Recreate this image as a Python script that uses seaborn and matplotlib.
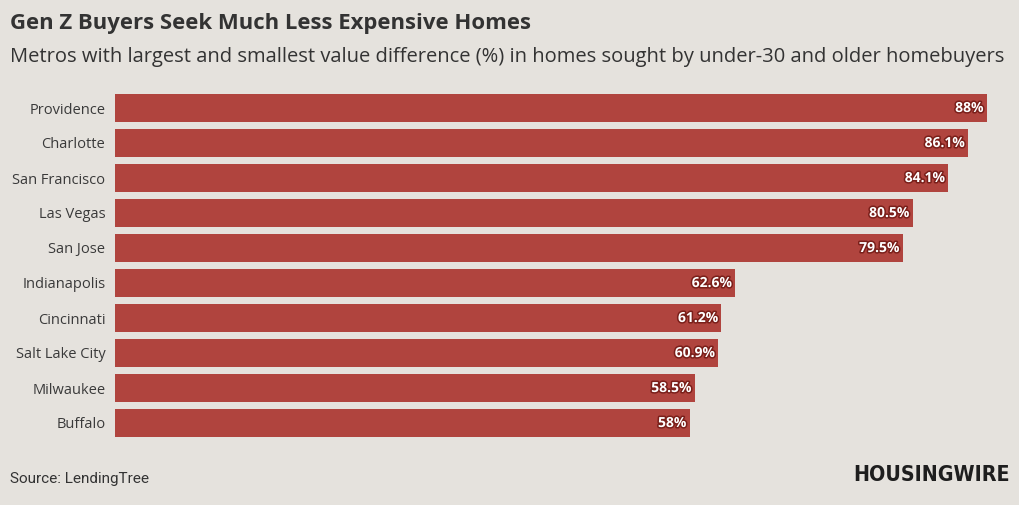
import matplotlib
matplotlib.use("Agg")
import matplotlib.pyplot as plt
import matplotlib.patheffects as pe
import seaborn as sns
import pandas as pd

metros = ["Providence", "Charlotte", "San Francisco", "Las Vegas", "San Jose",
          "Indianapolis", "Cincinnati", "Salt Lake City", "Milwaukee", "Buffalo"]
values = [88, 86.1, 84.1, 80.5, 79.5, 62.6, 61.2, 60.9, 58.5, 58]
labels = ["88%", "86.1%", "84.1%", "80.5%", "79.5%", "62.6%", "61.2%", "60.9%", "58.5%", "58%"]

BG = "#e5e2dd"
BAR = "#b0443e"

sns.set_theme(style="white")
plt.rcParams["font.family"] = ["Open Sans", "DejaVu Sans"]

df = pd.DataFrame({"metro": metros, "value": values})

fig = plt.figure(figsize=(10.2, 5.05), dpi=100, facecolor=BG)
ax = fig.add_axes([115/1020, 1 - 440.5/505, (1010-115)/1020, 350/505])
ax.set_facecolor(BG)

sns.barplot(data=df, x="value", y="metro", color=BAR, saturation=1, width=0.8,
            linewidth=0, edgecolor="none", ax=ax)

ax.set_xlim(0, (1010-115) / (872/88))
ax.set_ylim(9.5, -0.5)
ax.set_xlabel("")
ax.set_ylabel("")
ax.set_xticks([])
for s in ax.spines.values():
    s.set_visible(False)
ax.tick_params(axis="y", length=0, pad=7, labelsize=10.5, labelcolor="#3a3a3a")

for i, (v, lab) in enumerate(zip(values, labels)):
    ax.text(v - 0.35, i, lab, ha="right", va="center", color="white",
            fontsize=10, fontweight="bold",
            path_effects=[pe.withStroke(linewidth=2.2, foreground="#7a1f1a")])

fig.text(10/1020, 1 - 23/505, "Gen Z Buyers Seek Much Less Expensive Homes",
         fontsize=15.9, fontweight="bold", color="#333333", ha="left", va="center")
fig.text(10/1020, 1 - 57/505,
         "Metros with largest and smallest value difference (%) in homes sought by under-30 and older homebuyers",
         fontsize=14.5, color="#333333", ha="left", va="center")
fig.text(10/1020, 1 - 479/505, "Source: LendingTree", fontsize=11, color="#333333",
         ha="left", va="center", family="Roboto")
fig.text(1010/1020, 1 - 475/505, "HOUSINGWIRE", fontsize=15.3, fontweight="heavy",
         color="#1e1e1e", ha="right", va="center", family="DejaVu Sans",
         fontstretch="condensed")

fig.savefig("out.png", dpi=100, facecolor=BG)
